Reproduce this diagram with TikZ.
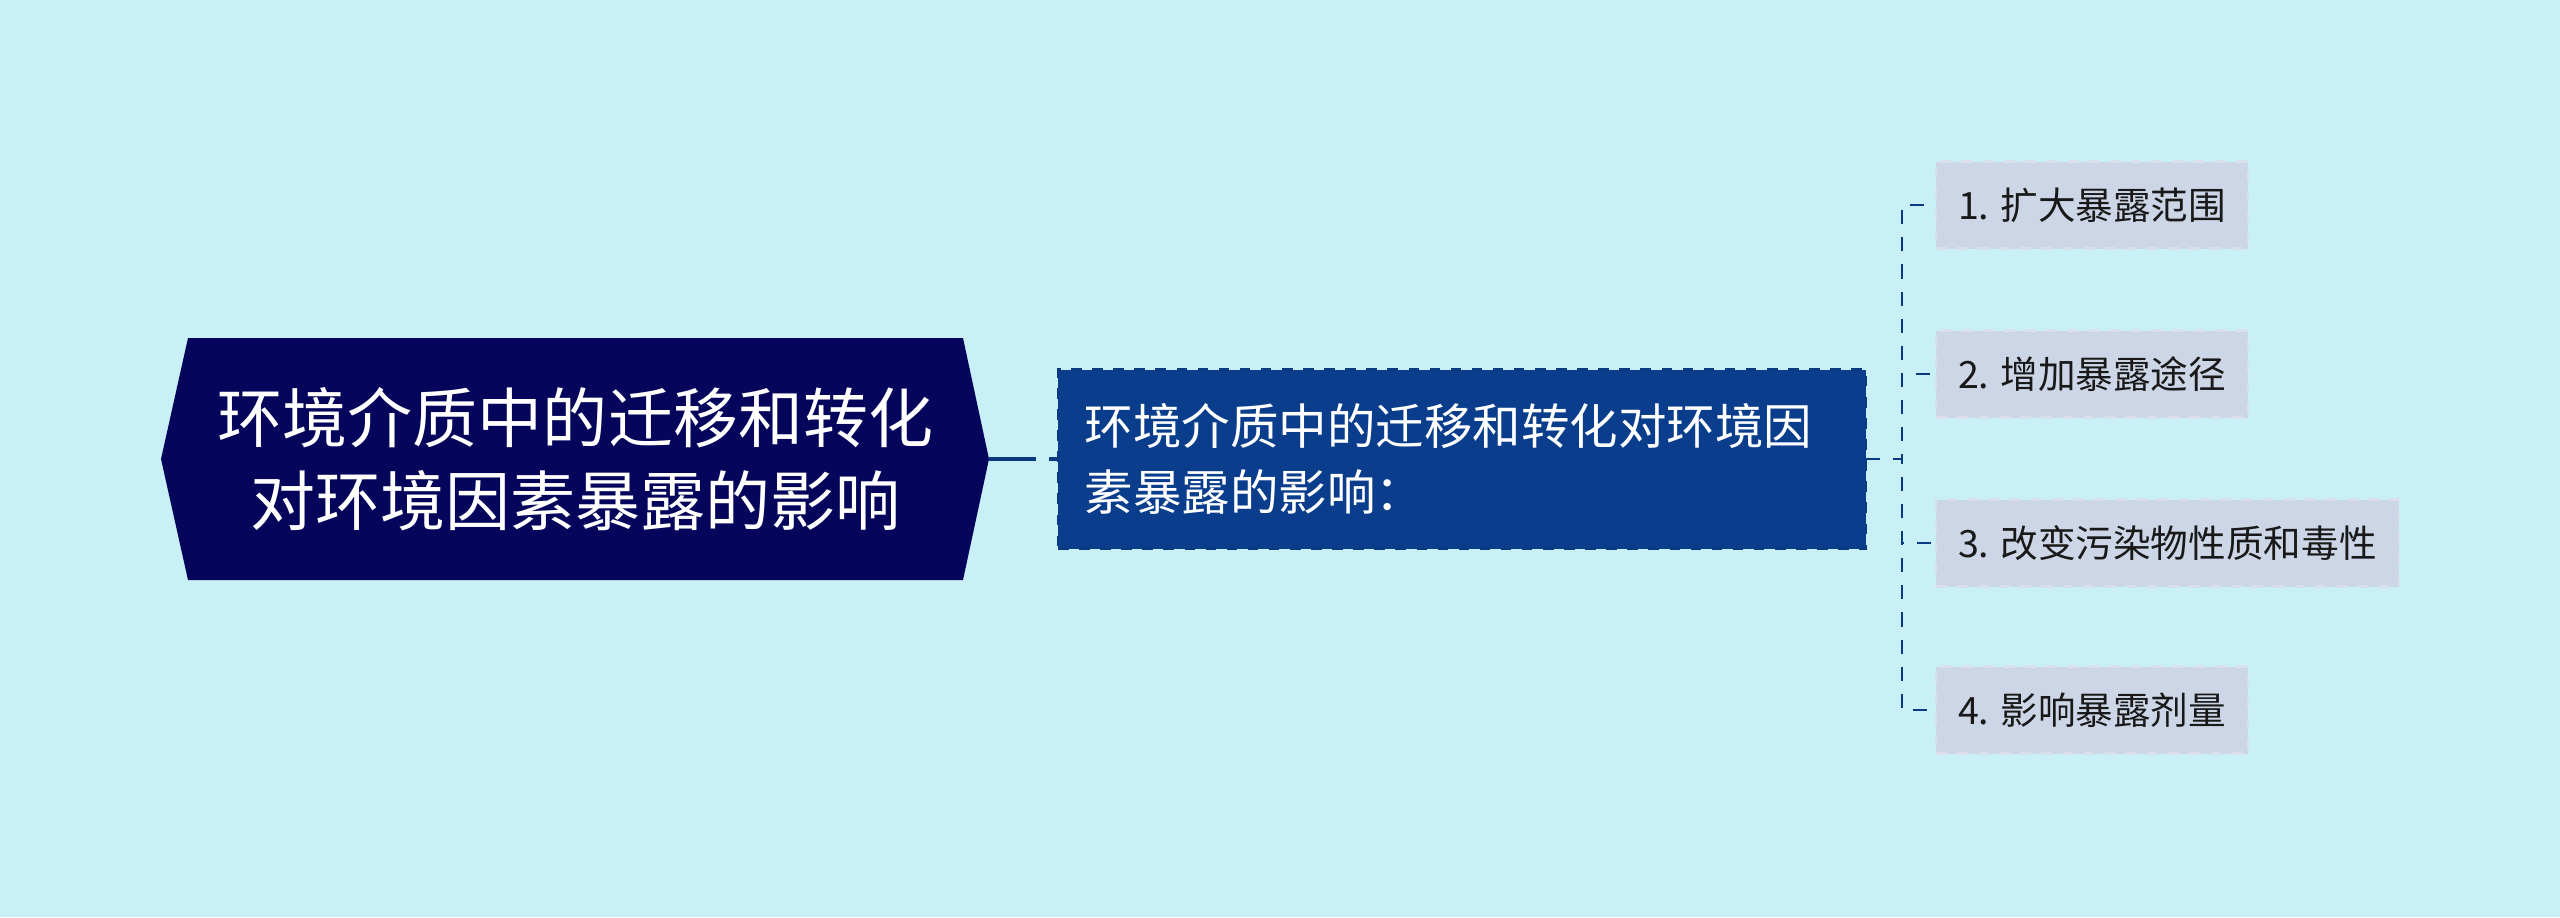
\documentclass[tikz,border=0pt]{standalone}
\usepackage{fontspec}
\setmainfont{Noto Sans CJK SC}
\usepackage{tikz}
\usetikzlibrary{positioning}
\usetikzlibrary{backgrounds}
\definecolor{bg_blue}{HTML}{C9EFF7}
\definecolor{root_blue}{HTML}{05055C}
\definecolor{branch_blue}{HTML}{0A3E8C}
\definecolor{leaf_grey}{HTML}{CDD6E6}
\definecolor{link_blue}{HTML}{0A3A80}
\tikzset{
  mapnode/.style = {inner sep=0pt, outer sep=0pt},
  root_node/.style = {mapnode, align=center, text centered, white,
    font=\fontsize{18.5}{23.6}\selectfont,
    minimum width=7.75cm, minimum height=2.42cm},
  branch_node/.style = {mapnode, align=left, white, fill=branch_blue,
    draw=link_blue, dashed, line width=0.6pt,
    font=\fontsize{13.8}{18.8}\selectfont, text width=7.55cm,
    inner xsep=0.25cm, minimum width=8.08cm, minimum height=1.79cm},
  leaf_node/.style = {mapnode, anchor=west, black!90, fill=leaf_grey,
    draw=leaf_grey!75!white, dashed, line width=0.6pt,
    font=\fontsize{10.7}{13}\selectfont,
    inner xsep=0.22cm, minimum height=0.87cm},
  trunk_link/.style = {draw=link_blue, line width=1.1pt,
    dash pattern=on 13.5pt off 3.7pt},
  leaf_link/.style = {draw=link_blue, line width=0.7pt,
    dash pattern=on 4pt off 3.7pt}
}
\begin{document}
\begin{tikzpicture}
  \useasboundingbox (0,0) rectangle (25.6,-9.17);
  % topic and main branch
  \node [root_node] (root) at (5.755,-4.59)
    {环境介质中的迁移和转化\\对环境因素暴露的影响};
  \node [branch_node, right=0.95cm of root] (branch)
    {环境介质中的迁移和转化对环境因\\素暴露的影响：};
  % leaves
  \node [leaf_node] (leaf1) at ([xshift=7mm, yshift=25.4mm]branch.east)
    {1. 扩大暴露范围};
  \node [leaf_node] (leaf2) at ([xshift=7mm, yshift=8.5mm]branch.east)
    {2. 增加暴露途径};
  \node [leaf_node] (leaf3) at ([xshift=7mm, yshift=-8.4mm]branch.east)
    {3. 改变污染物性质和毒性};
  \node [leaf_node] (leaf4) at ([xshift=7mm, yshift=-25.1mm]branch.east)
    {4. 影响暴露剂量};
  % connectors
  \draw [trunk_link] ([xshift=2.6mm]root.east) -- (branch.west);
  \draw [leaf_link] (branch.east) -- ++(0.36,0) |- (leaf1.west);
  \draw [leaf_link] (branch.east) -- ++(0.36,0) |- (leaf2.west);
  \draw [leaf_link] (branch.east) -- ++(0.36,0) |- (leaf3.west);
  \draw [leaf_link] (branch.east) -- ++(0.36,0) |- (leaf4.west);
  \begin{scope}[on background layer]
    \fill [bg_blue] (0,0) rectangle (25.6,-9.17);
    \fill [root_blue] (root.north west) -- (root.north east)
      -- ([xshift=2.6mm]root.east) -- (root.south east)
      -- (root.south west) -- ([xshift=-2.7mm]root.west) -- cycle;
  \end{scope}
\end{tikzpicture}
\end{document}
